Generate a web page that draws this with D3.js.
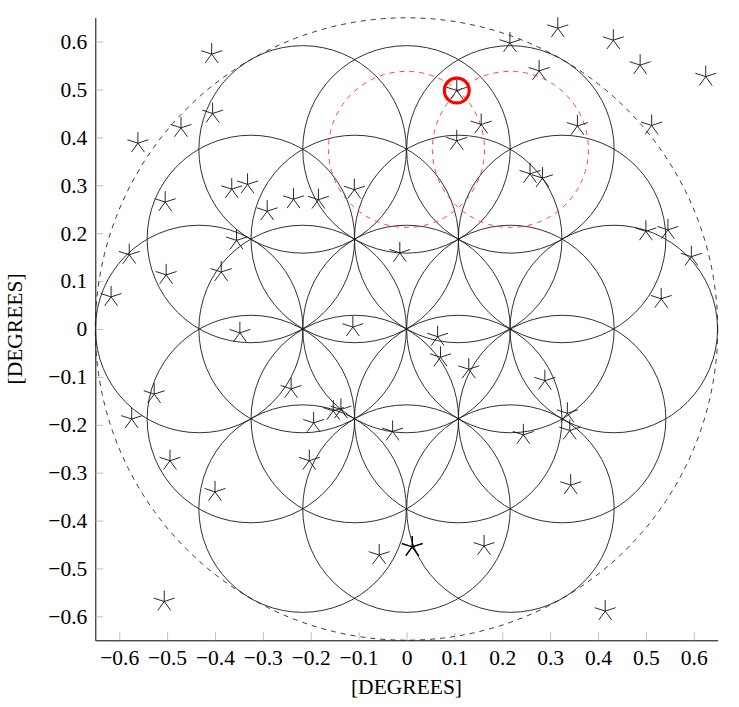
<!DOCTYPE html>
<html lang="en">

<head>
    <meta charset="UTF-8">
    <title>Field of view</title>
    <script src="https://d3js.org/d3.v7.min.js"></script>
    <style>
        body { margin: 0; background: #fff; }
        svg { width: 739px; height: 707px; display: block; }
        text { font-family: "Liberation Serif", "DejaVu Serif", serif; }
    </style>
</head>

<body>
    <svg id="chart"></svg>

    <script>
        // ticks
        var xTicks = [-0.6, -0.5, -0.4, -0.3, -0.2, -0.1, 0, 0.1, 0.2, 0.3, 0.4, 0.5, 0.6];
        var yTicks = [-0.6, -0.5, -0.4, -0.3, -0.2, -0.1, 0, 0.1, 0.2, 0.3, 0.4, 0.5, 0.6];

        // flower of life pattern (centres in degrees), radius of each circle
        var petalX = [-0.433, -0.217, 0, 0.217, 0.433,
                      -0.325, -0.108, 0.108, 0.325,
                      -0.325, -0.108, 0.108, 0.325,
                      -0.217, 0, 0.217,
                      -0.217, 0, 0.217];
        var petalY = [0, 0, 0, 0, 0,
                      0.188, 0.188, 0.188, 0.188,
                      -0.188, -0.188, -0.188, -0.188,
                      0.375, 0.375, 0.375,
                      -0.375, -0.375, -0.375];
        var petalR = 0.2167;
        var fieldR = 0.65;

        // red dashed circles and the highlighted source
        var redX = [0, 0.217];
        var redY = [0.375, 0.375];
        var redR = 0.163;
        var targetX = 0.105, targetY = 0.498, targetR = 0.026;

        // star positions
        var starX = [-0.407, 0.316, 0.432, 0.488, 0.625, 0.216, 0.277, 0.105, -0.405, -0.471,
                     -0.561, 0.512, 0.357, 0.156, 0.105, -0.365, -0.332, -0.109, -0.236, -0.291,
                     -0.184, 0.258, 0.284, -0.504, -0.355, -0.014, -0.579, -0.502, -0.387, 0.500,
                     0.546, 0.595, 0.532, -0.617, -0.348, -0.112, 0.065, 0.071, 0.130, 0.289,
                     -0.527, -0.241, -0.574, -0.194, -0.153, -0.137, -0.029, 0.244, 0.336, 0.341,
                     -0.494, -0.203, -0.400, 0.343, -0.057, 0.162, -0.506, 0.415];
        var starY = [0.574, 0.628, 0.603, 0.551, 0.527, 0.597, 0.539, 0.498, 0.450, 0.420,
                     0.388, 0.425, 0.424, 0.427, 0.393, 0.292, 0.302, 0.291, 0.271, 0.246,
                     0.270, 0.324, 0.315, 0.265, 0.185, 0.159, 0.155, 0.113, 0.119, 0.204,
                     0.207, 0.151, 0.063, 0.067, -0.008, 0.004, -0.016, -0.059, -0.084, -0.108,
                     -0.136, -0.125, -0.188, -0.196, -0.171, -0.168, -0.214, -0.221, -0.176, -0.212,
                     -0.275, -0.275, -0.340, -0.326, -0.472, -0.453, -0.569, -0.589];
        var brightX = [0.012], brightY = [-0.455];

        var svg = d3.select('#chart');

        var x = d3.scaleLinear().domain([-0.65, 0.65]).range([95.3, 717.7]);
        var y = d3.scaleLinear().domain([-0.65, 0.65]).range([640.3, 17.7]);
        var k = x(1) - x(0); // px per degree

        var fmt = function(d) { return d === 0 ? '0' : d3.format('.1f')(d); };

        // axes
        var gx = svg.append('g')
            .attr('transform', 'translate(0,' + y(-0.65) + ')')
            .call(d3.axisBottom(x).tickValues(xTicks).tickFormat(fmt)
                .tickSizeInner(-8).tickSizeOuter(0).tickPadding(9));
        var gy = svg.append('g')
            .attr('transform', 'translate(' + x(-0.65) + ',0)')
            .call(d3.axisLeft(y).tickValues(yTicks).tickFormat(fmt)
                .tickSizeInner(-8).tickSizeOuter(0).tickPadding(8));

        [gx, gy].forEach(function(g) {
            g.selectAll('.tick line').attr('stroke', '#b0b0b0').attr('stroke-width', 0.8);
            g.selectAll('.tick text')
                .attr('fill', '#000')
                .style('font-family', '"Liberation Serif", serif')
                .style('font-size', '21.5px');
            g.select('.domain').attr('stroke', '#000').attr('stroke-width', 1);
        });

        // axis labels
        svg.append('text')
            .attr('x', x(0)).attr('y', 694)
            .attr('text-anchor', 'middle')
            .style('font-size', '21.5px')
            .text('[DEGREES]');
        svg.append('text')
            .attr('transform', 'translate(22,' + y(0) + ') rotate(-90)')
            .attr('text-anchor', 'middle')
            .style('font-size', '21.5px')
            .text('[DEGREES]');

        var plot = svg.append('g');

        // field of view
        plot.append('circle')
            .attr('cx', x(0)).attr('cy', y(0)).attr('r', fieldR * k)
            .attr('fill', 'none').attr('stroke', '#222').attr('stroke-width', 0.9)
            .attr('stroke-dasharray', '5,5');

        // flower circles
        plot.append('g')
            .selectAll('circle')
            .data(d3.range(petalX.length))
            .join('circle')
            .attr('cx', function(i) { return x(petalX[i]); })
            .attr('cy', function(i) { return y(petalY[i]); })
            .attr('r', petalR * k)
            .attr('fill', 'none')
            .attr('stroke', '#1a1a1a')
            .attr('stroke-width', 0.9);

        // red dashed circles
        plot.append('g')
            .selectAll('circle')
            .data(d3.range(redX.length))
            .join('circle')
            .attr('cx', function(i) { return x(redX[i]); })
            .attr('cy', function(i) { return y(redY[i]); })
            .attr('r', redR * k)
            .attr('fill', 'none')
            .attr('stroke', '#ff3030')
            .attr('stroke-width', 0.9)
            .attr('stroke-dasharray', '5,5');

        // star marks: five rays, one pointing up
        var L = 11;
        var starPath = '';
        for (var a = 0; a < 5; a++) {
            var ang = (-90 + 72 * a) * Math.PI / 180;
            starPath += 'M0,0L' + (L * Math.cos(ang)).toFixed(2) + ',' + (L * Math.sin(ang)).toFixed(2);
        }

        plot.append('g')
            .selectAll('path')
            .data(d3.range(starX.length))
            .join('path')
            .attr('transform', function(i) { return 'translate(' + x(starX[i]) + ',' + y(starY[i]) + ')'; })
            .attr('d', starPath)
            .attr('fill', 'none')
            .attr('stroke', '#111')
            .attr('stroke-width', 0.9);

        plot.append('g')
            .selectAll('path')
            .data(d3.range(brightX.length))
            .join('path')
            .attr('transform', function(i) { return 'translate(' + x(brightX[i]) + ',' + y(brightY[i]) + ')'; })
            .attr('d', starPath)
            .attr('fill', 'none')
            .attr('stroke', '#000')
            .attr('stroke-width', 1.5);

        // highlighted source
        plot.append('circle')
            .attr('cx', x(targetX)).attr('cy', y(targetY)).attr('r', targetR * k)
            .attr('fill', 'none')
            .attr('stroke', '#ff0000')
            .attr('stroke-width', 3.2);
    </script>
</body>

</html>
